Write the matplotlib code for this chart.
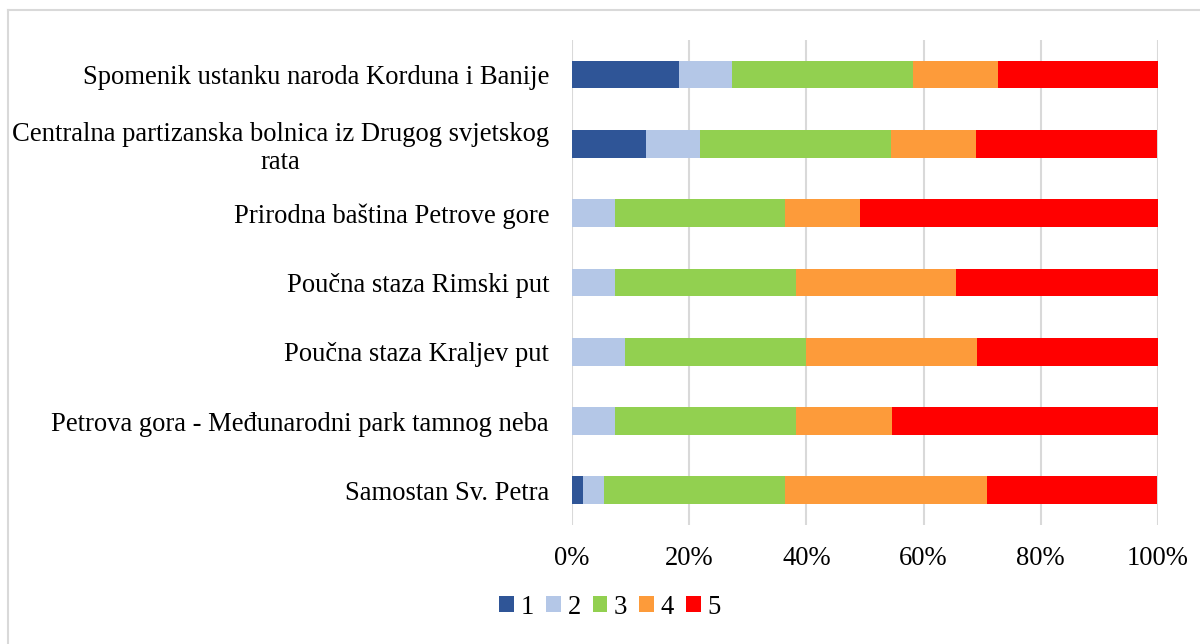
import matplotlib
matplotlib.use("Agg")
import matplotlib.pyplot as plt
from matplotlib.lines import Line2D
from matplotlib.patches import Patch

categories = [
    "Spomenik ustanku naroda Korduna i Banije",
    "Centralna partizanska bolnica iz Drugog svjetskog\nrata",
    "Prirodna baština Petrove gore",
    "Poučna staza Rimski put",
    "Poučna staza Kraljev put",
    "Petrova gora - Međunarodni park tamnog neba",
    "Samostan Sv. Petra",
]
series_names = ["1", "2", "3", "4", "5"]
s1 = [18.2, 12.7, 0.0, 0.0, 0.0, 0.0, 1.8]
s2 = [9.1, 9.1, 7.3, 7.3, 9.1, 7.3, 3.6]
s3 = [30.9, 32.7, 29.1, 30.9, 30.9, 30.9, 30.9]
s4 = [14.5, 14.5, 12.7, 27.3, 29.1, 16.4, 34.5]
s5 = [27.3, 30.9, 50.9, 34.5, 30.9, 45.5, 29.1]
xticks = [0, 20, 40, 60, 80, 100]
xtick_labels = ["0%", "20%", "40%", "60%", "80%", "100%"]
colors = ["#2F5597", "#B4C7E7", "#92D050", "#FD9B3A", "#FF0000"]

plt.rcParams['font.family'] = ['Liberation Serif', 'DejaVu Serif']
FS = 19.2

fig = plt.figure(figsize=(12, 6.44), dpi=100)
ax = fig.add_axes([572/1200, 1-525/644, (1158-572)/1200, (525-40)/644])

ypos = list(range(len(categories)))
left = [0.0]*len(categories)
for vals, col, name in zip([s1, s2, s3, s4, s5], colors, series_names):
    ax.barh(ypos, vals, left=left, height=0.4, color=col, label=name, zorder=3)
    left = [l + v for l, v in zip(left, vals)]

ax.set_xlim(0, 100)
ax.set_ylim(len(categories)-0.5, -0.5)
ax.set_xticks(xticks)
ax.set_xticklabels(xtick_labels, fontsize=FS)
ax.set_yticks(ypos)
ax.set_yticklabels(categories, fontsize=FS, multialignment='center', linespacing=1.15)
ax.tick_params(axis='both', length=0)
ax.tick_params(axis='y', pad=16.5)
ax.tick_params(axis='x', pad=15)
ax.grid(axis='x', color='#D9D9D9', linewidth=1.5, zorder=0)
for sp in ax.spines.values():
    sp.set_visible(False)

handles = [Patch(facecolor=c, edgecolor='none') for c in colors]
fig.legend(handles, series_names, loc='center', bbox_to_anchor=(610/1200, 1-607/644),
           ncol=5, frameon=False, fontsize=FS, handlelength=0.55, handleheight=0.55,
           handletextpad=0.25, columnspacing=0.45)

fig.add_artist(Line2D([7.5/1200, 7.5/1200], [0, 1-10/644], transform=fig.transFigure,
                      color='#D9D9D9', linewidth=1.5))
fig.add_artist(Line2D([7.5/1200, 1], [1-10/644, 1-10/644], transform=fig.transFigure,
                      color='#D9D9D9', linewidth=1.5))

fig.savefig("out.png", dpi=100, facecolor='white')
